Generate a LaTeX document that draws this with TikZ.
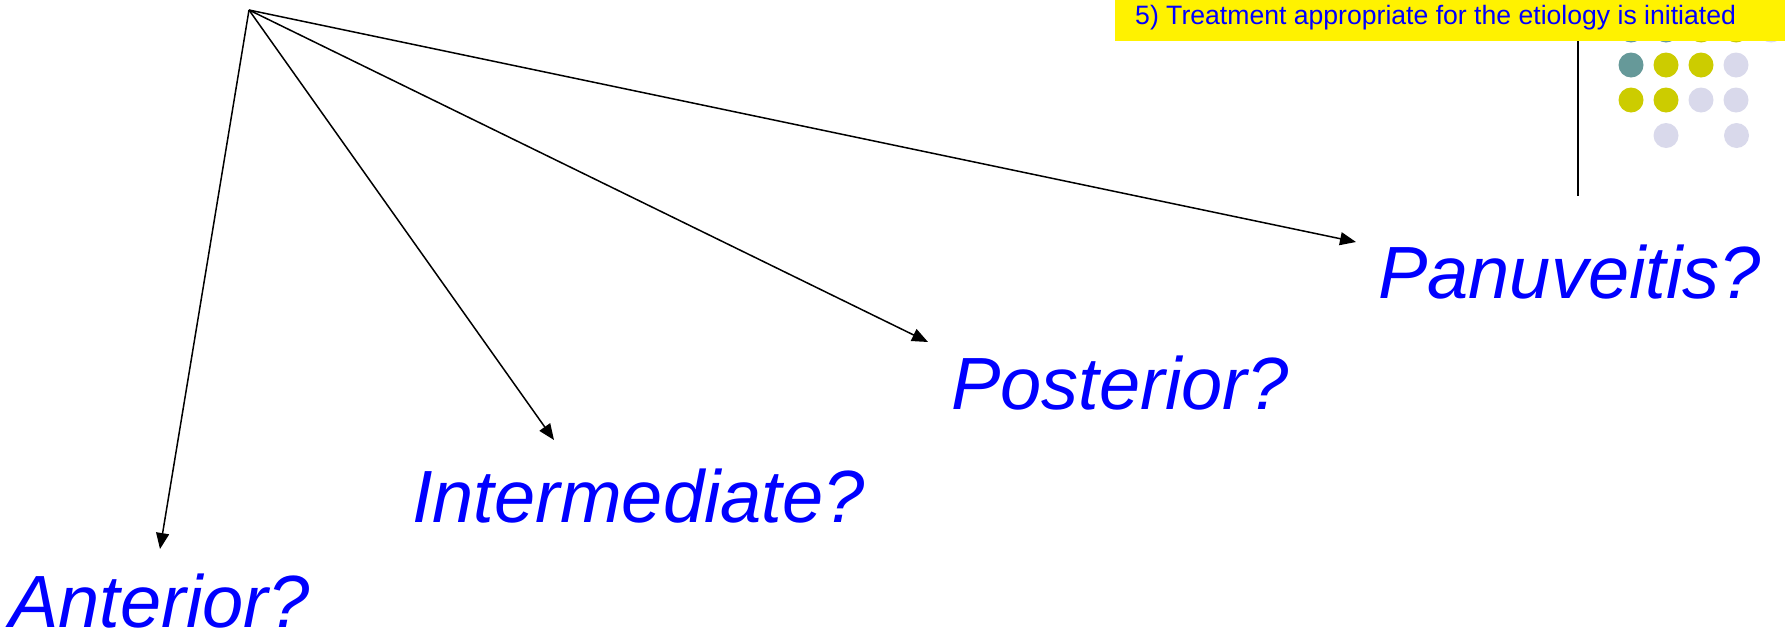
\documentclass[tikz,border=0pt]{standalone}
\usepackage{fontspec}
\setmainfont{Liberation Sans}
\usetikzlibrary{arrows.meta}
\definecolor{dotteal}{HTML}{669999}
\definecolor{dotolive}{HTML}{CCCC00}
\definecolor{dotlav}{HTML}{D9D9EB}
\definecolor{textblue}{HTML}{0000FF}
\tikzset{
  question/.style={anchor=base west, inner sep=0pt, text depth=0pt, text=textblue,
    font=\fontsize{74}{80}\selectfont\itshape},
  branch/.style={line width=1.5pt, -{Triangle[length=16pt,width=13pt]}},
  dot/.style={circle, inner sep=0pt, minimum size=25pt},
}
\begin{document}
\begin{tikzpicture}[x=1pt,y=-1pt]
\useasboundingbox (0,0) rectangle (1785,638);

% decorative dot grid (top row partly under the banner)
\foreach \c [count=\i] in {dotteal,dotteal,dotolive,dotolive,dotlav}
  \node[dot, fill=\c] (dA\i) at ({1631+35*(\i-1)},30) {};
\foreach \c [count=\i] in {dotteal,dotolive,dotolive,dotlav}
  \node[dot, fill=\c] (dB\i) at ({1631+35*(\i-1)},65) {};
\foreach \c [count=\i] in {dotolive,dotolive,dotlav,dotlav}
  \node[dot, fill=\c] (dC\i) at ({1631+35*(\i-1)},100) {};
\node[dot, fill=dotlav] (dD2) at (1666,135.5) {};
\node[dot, fill=dotlav] (dD4) at (1736.5,135.5) {};

% banner
\node[anchor=north west, fill=yellow, minimum width=670pt, minimum height=41pt,
      inner sep=0pt] (banner) at (1115,0) {};
\node[anchor=base west, inner sep=0pt, text=textblue,
      font=\fontsize{26.6}{30}\selectfont] (bannertext) at (1135,24.5)
  {5) Treatment appropriate for the etiology is initiated};

% vertical rule
\coordinate (ruletop) at (1578,41);
\coordinate (rulebot) at (1578,196);
\draw[line width=2pt] (ruletop) -- (rulebot);

% labels
\node[question] (ant) at (9,627) {Anterior?};
\node[question] (int) at (412,522) {Intermediate?};
\node[question] (post) at (951,409) {Posterior?};
\node[question] (pan) at (1378,298) {Panuveitis?};

% branches
\coordinate (hub) at (249,10);
\coordinate (antTip) at (160,549);
\coordinate (intTip) at (554,440);
\coordinate (postTip) at (928,342);
\coordinate (panTip) at (1356,242);
\draw[branch] (hub) -- (antTip);
\draw[branch] (hub) -- (intTip);
\draw[branch] (hub) -- (postTip);
\draw[branch] (hub) -- (panTip);
\end{tikzpicture}
\end{document}
